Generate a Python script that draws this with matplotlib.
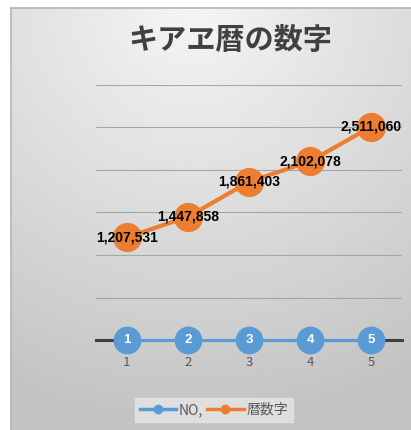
import numpy as np
import matplotlib.pyplot as plt
from matplotlib.lines import Line2D

categories = ['1', '2', '3', '4', '5']
no_values = [1, 2, 3, 4, 5]
reki_values = [1207531, 1447858, 1861403, 2102078, 2511060]
title = 'キアヱ暦の数字'
legend_labels = ['NO,', '暦数字']

plt.rcParams['font.family'] = ['Noto Sans CJK JP', 'DejaVu Sans']

blue = '#5B9BD5'
orange = '#ED7D31'

fig = plt.figure(figsize=(4.11, 4.30), dpi=100)
fig.patch.set_facecolor('white')

# gradient background of the chart area
bg = fig.add_axes([11 / 411, 0, 1 - 11 / 411, (430 - 8) / 430], zorder=0)
yy, xx = np.mgrid[0:1:200j, 0:1:200j]
r = np.sqrt(((xx - 0.45) * 1.0) ** 2 + ((yy - 0.0) * 1.1) ** 2)
grad = 0.96 - 0.18 * np.clip(r, 0, 1.1)
bg.imshow(grad, cmap='gray', vmin=0, vmax=1, aspect='auto',
          extent=[0, 1, 1, 0], interpolation='bilinear')
bg.set_xlim(0, 1)
bg.set_ylim(1, 0)
bg.set_xticks([])
bg.set_yticks([])
for s in ['left', 'top']:
    bg.spines[s].set_color('#b4b4b4')
    bg.spines[s].set_linewidth(1.2)
for s in ['right', 'bottom']:
    bg.spines[s].set_visible(False)

ax = fig.add_axes([96 / 411, (430 - 340) / 430, 306 / 411, 255 / 430], zorder=1)
ax.patch.set_alpha(0)
x = np.arange(1, len(categories) + 1)
ax.set_xlim(0.5, 5.5)
ax.set_ylim(0, 3000000)
ax.set_yticks(np.arange(0, 3000001, 500000))
ax.yaxis.grid(True, color='#a6a6a6', linewidth=0.8)
ax.set_axisbelow(True)
ax.tick_params(axis='y', left=False, labelleft=False)
ax.tick_params(axis='x', bottom=False, labelsize=9.5, labelcolor='#595959', pad=8)
ax.set_xticks(x)
ax.set_xticklabels(categories)
for s in ['left', 'right', 'top']:
    ax.spines[s].set_visible(False)
ax.spines['bottom'].set_color('#404040')
ax.spines['bottom'].set_linewidth(2.2)

ax.plot(x, no_values, color=blue, linewidth=2.2, marker='o', markersize=19,
        markerfacecolor=blue, markeredgecolor=blue, zorder=3, clip_on=False)
ax.plot(x, reki_values, color=orange, linewidth=3, marker='o', markersize=20,
        markerfacecolor=orange, markeredgecolor=orange, zorder=3, clip_on=False)

for xi, v in zip(x, no_values):
    ax.text(xi, v, str(v), color='white', fontsize=9.5, fontweight='bold',
            family=['Liberation Sans', 'DejaVu Sans'],
            ha='center', va='center', zorder=4)
for xi, v in zip(x, reki_values):
    ax.text(xi, v, f'{v:,}', color='black', fontsize=10, fontweight='bold',
            family=['Liberation Sans', 'DejaVu Sans'],
            ha='center', va='center', zorder=4)

fig.text(230 / 411, 1 - 40 / 430, title, fontsize=21, fontweight='bold',
         color='#404040', ha='center', va='center')

handles = [Line2D([0], [0], color=blue, linewidth=2.5, marker='o', markersize=6),
           Line2D([0], [0], color=orange, linewidth=2.5, marker='o', markersize=6)]
leg = fig.legend(handles, legend_labels, loc='center', ncol=2,
                 bbox_to_anchor=(214 / 411, 1 - 410 / 430), frameon=True,
                 fontsize=10, handlelength=2.6, handletextpad=0.2,
                 columnspacing=0.3, borderpad=0.35, fancybox=False)
leg.get_frame().set_facecolor('#e6e6e6')
leg.get_frame().set_edgecolor('#e6e6e6')
for t in leg.get_texts():
    t.set_color('#595959')

fig.savefig('out.png', dpi=100)
